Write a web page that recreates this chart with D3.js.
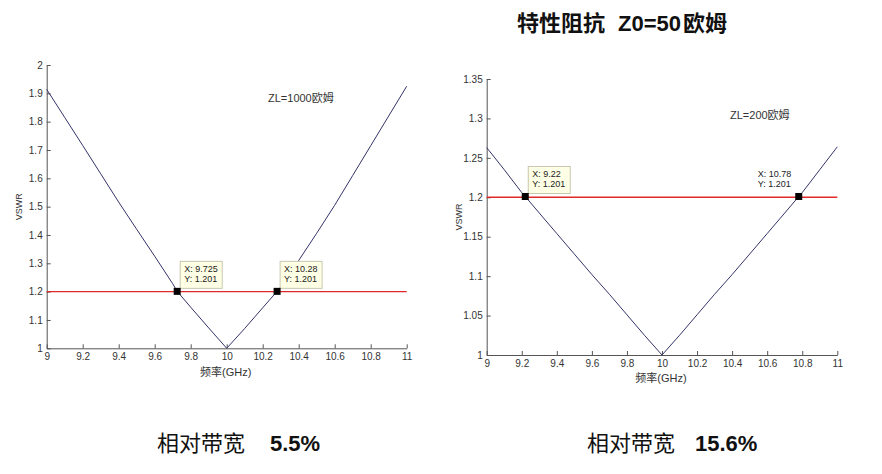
<!DOCTYPE html>
<html>
<head>
<meta charset="utf-8">
<script src="https://cdn.jsdelivr.net/npm/d3@7"></script>
<style>
  body { margin: 0; background: #fff; }
  text { font-family: "Liberation Sans", Arial, "Noto Sans CJK SC", sans-serif; }
</style>
</head>
<body>
<div class="canva"></div>
<script>
// ---- data ----
// left plot, ZL = 1000 ohm
const freqLeft = [9.0, 9.1, 9.2, 9.3, 9.4, 9.5, 9.6, 9.7, 9.725, 9.8, 9.9, 10.0,
                  10.1, 10.2, 10.28, 10.3, 10.4, 10.5, 10.6, 10.7, 10.8, 10.9, 11.0];
const vswrLeft = [1.914, 1.815, 1.716, 1.616, 1.516, 1.42, 1.325, 1.228, 1.201, 1.145, 1.072, 1.0,
                  1.07, 1.143, 1.201, 1.216, 1.31, 1.406, 1.505, 1.61, 1.715, 1.82, 1.925];
// right plot, ZL = 200 ohm
const freqRight = [9.0, 9.1, 9.2, 9.22, 9.3, 9.4, 9.5, 9.6, 9.7, 9.8, 9.9, 10.0,
                   10.1, 10.2, 10.3, 10.4, 10.5, 10.6, 10.7, 10.78, 10.8, 10.9, 11.0];
const vswrRight = [1.263, 1.235, 1.206, 1.201, 1.18, 1.154, 1.128, 1.102, 1.077, 1.051, 1.025, 1.0,
                   1.025, 1.051, 1.077, 1.102, 1.128, 1.154, 1.18, 1.201, 1.206, 1.235, 1.264];

const refLevel = 1.2;
const tipsLeft = [{x: 9.725, y: 1.201}, {x: 10.28, y: 1.201}];
const tipsRight = [{x: 9.22, y: 1.201}, {x: 10.78, y: 1.201}];

const xTicks = [9, 9.2, 9.4, 9.6, 9.8, 10, 10.2, 10.4, 10.6, 10.8, 11];
const yTicksLeft = [1, 1.1, 1.2, 1.3, 1.4, 1.5, 1.6, 1.7, 1.8, 1.9, 2];
const yTicksRight = [1, 1.05, 1.1, 1.15, 1.2, 1.25, 1.3, 1.35];

//add svg element
const svg = d3.select('.canva').append('svg')
              .attr('width', 882)
              .attr('height', 474);

const curveColor = '#34346a';
const refColor = '#e02828';
const axisColor = '#555';
const textColor = '#333';

function drawPanel(opt) {
  const x = d3.scaleLinear().domain([9, 11]).range([opt.left, opt.right]);
  const y = d3.scaleLinear().domain(opt.yDomain).range([opt.bottom, opt.top]);

  const g = svg.append('g');

  // axes, ticks inside like matlab
  const xAxis = d3.axisBottom(x).tickValues(xTicks).tickFormat(d3.format('~g'))
                  .tickSizeInner(-4).tickSizeOuter(0).tickPadding(5);
  const yAxis = d3.axisLeft(y).tickValues(opt.yTicks).tickFormat(d3.format('~g'))
                  .tickSizeInner(-4).tickSizeOuter(0).tickPadding(4);

  const xg = g.append('g').attr('transform', `translate(0, ${opt.bottom})`).call(xAxis);
  const yg = g.append('g').attr('transform', `translate(${opt.left}, 0)`).call(yAxis);
  [xg, yg].forEach(a => {
    a.selectAll('path, line').attr('stroke', axisColor);
    a.selectAll('text').attr('fill', textColor).style('font-size', '10px')
     .style('font-family', '"Liberation Sans", Arial, sans-serif');
  });

  // reference line
  g.append('line')
   .attr('x1', x(9)).attr('x2', x(11))
   .attr('y1', y(refLevel)).attr('y2', y(refLevel))
   .style('stroke', refColor).style('stroke-width', '1.4px');

  // vswr curve
  const line = d3.line().x(d => x(d[0])).y(d => y(d[1]));
  g.append('path')
   .datum(d3.zip(opt.freq, opt.vswr))
   .attr('d', line)
   .attr('fill', 'none')
   .attr('stroke', curveColor)
   .attr('stroke-width', 1);

  // data tips
  opt.tips.forEach((t, i) => {
    const px = x(t.x), py = y(t.y);
    const left = opt.tipSide[i] === 'left';
    const bw = 42, bh = 27;
    const bx = left ? px - bw - 3 : px + 3;
    const by = py - bh - 3;
    g.append('rect')
     .attr('x', bx).attr('y', by).attr('width', bw).attr('height', bh)
     .attr('fill', left ? '#fff' : '#ffffe6')
     .attr('stroke', left ? 'none' : '#c8c8b0')
     .attr('stroke-width', 1);
    const tt = g.append('text').attr('fill', '#222').style('font-size', '9px');
    tt.append('tspan').attr('x', bx + 4).attr('y', by + 11).text('X: ' + t.x);
    tt.append('tspan').attr('x', bx + 4).attr('y', by + 21).text('Y: ' + t.y);
    g.append('rect')
     .attr('x', px - 3.5).attr('y', py - 3.5).attr('width', 7).attr('height', 7)
     .attr('fill', '#000');
  });

  // labels
  g.append('text')
   .attr('x', (opt.left + opt.right) / 2 - 1).attr('y', opt.bottom + opt.xLabelDy)
   .attr('text-anchor', 'middle').attr('fill', textColor)
   .style('font-size', '11px')
   .text('频率(GHz)');
  g.append('text')
   .attr('transform', `translate(${opt.left - 25}, ${(opt.top + opt.bottom) / 2}) rotate(-90)`)
   .attr('text-anchor', 'middle').attr('fill', textColor)
   .style('font-size', '9px')
   .text('VSWR');
  g.append('text')
   .attr('x', opt.zlPos[0]).attr('y', opt.zlPos[1])
   .attr('fill', textColor).style('font-size', '11px')
   .text(opt.zl);
}

drawPanel({
  left: 46.7, right: 406.7, top: 65, bottom: 348.3,
  yDomain: [1, 2], yTicks: yTicksLeft,
  freq: freqLeft, vswr: vswrLeft, tips: tipsLeft, tipSide: ['right', 'right'],
  xLabelDy: 28, zlPos: [268, 102], zl: 'ZL=1000欧姆'
});

drawPanel({
  left: 486.7, right: 837.3, top: 79, bottom: 355,
  yDomain: [1, 1.35], yTicks: yTicksRight,
  freq: freqRight, vswr: vswrRight, tips: tipsRight, tipSide: ['right', 'left'],
  xLabelDy: 27, zlPos: [730, 119], zl: 'ZL=200欧姆'
});

// title and bandwidth captions
const cjk = '"Noto Sans CJK SC", sans-serif';
const latin = '"Liberation Sans", Arial, sans-serif';

function caption(x, y, parts, cjkWeight) {
  const t = svg.append('text').attr('x', x).attr('y', y).attr('fill', '#111')
               .style('font-size', '22px');
  parts.forEach(p => {
    t.append('tspan')
     .attr('x', p.x)
     .style('font-family', p.cjk ? cjk : latin)
     .style('font-weight', p.cjk ? cjkWeight : 'bold')
     .text(p.s);
  });
}

caption(517, 31, [{s: '特性阻抗', cjk: true, x: 517},
                  {s: 'Z0=50', cjk: false, x: 618},
                  {s: '欧姆', cjk: true, x: 683}], 'bold');
caption(157, 451, [{s: '相对带宽', cjk: true, x: 157},
                   {s: '5.5%', cjk: false, x: 270}], 'normal');
caption(587, 451, [{s: '相对带宽', cjk: true, x: 587},
                   {s: '15.6%', cjk: false, x: 695}], 'normal');
</script>
</body>
</html>
